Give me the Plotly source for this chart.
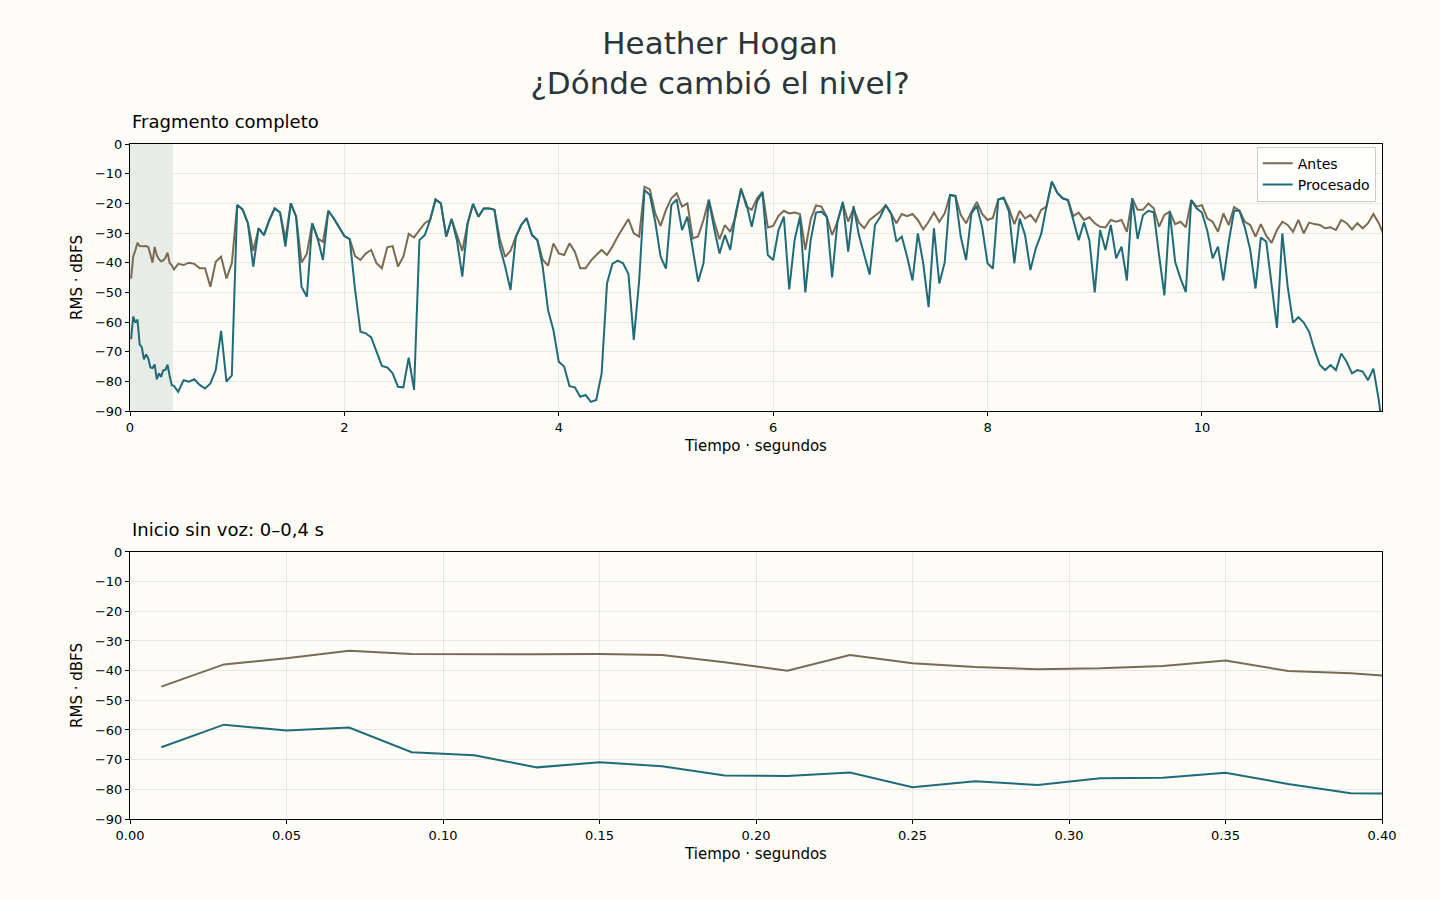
import numpy as np
import plotly.graph_objects as go
from plotly.subplots import make_subplots

# --- datos: inicio sin voz (0-0,4 s), paso 0,02 s ---
t_inicio = [0.01, 0.03, 0.05, 0.07, 0.09, 0.11, 0.13, 0.15, 0.17, 0.19,
            0.21, 0.23, 0.25, 0.27, 0.29, 0.31, 0.33, 0.35, 0.37, 0.39, 0.41]
antes_inicio = [-45.4, -37.9, -35.8, -33.3, -34.4, -34.5, -34.5, -34.4, -34.7, -37.2,
                -40.0, -34.7, -37.5, -38.8, -39.5, -39.2, -38.4, -36.6, -40.1, -40.9, -42.3]
proc_inicio = [-65.8, -58.2, -60.2, -59.2, -67.5, -68.5, -72.6, -70.9, -72.2, -75.3,
               -75.5, -74.3, -79.3, -77.3, -78.5, -76.3, -76.1, -74.4, -78.2, -81.3, -81.5]

# --- resto del fragmento, leído cada 0,05 s desde 0,45 s ---
t_resto = np.round(np.arange(0.45, 11.71, 0.05), 2)
antes_resto = [
    -40.4, -40.8, -40.0, -40.4, -41.9, -41.9, -48.1, -39.7, -38.0, -45.3,
    -40.2, -20.6, -22.0, -26.7, -36.0, -28.4, -30.7, -25.6, -21.7, -23.1,
    -32.0, -20.0, -24.5, -40.0, -37.0, -26.7, -31.8, -33.0, -22.5, -25.0,
    -28.0, -31.0, -32.1, -37.8, -39.1, -36.9, -35.7, -40.2, -41.9, -34.8,
    -34.4, -41.3, -38.0, -30.3, -31.5, -29.2, -26.7, -25.6, -18.7, -20.0,
    -31.2, -25.3, -31.0, -36.0, -26.7, -20.2, -24.5, -21.7, -21.7, -22.2,
    -32.0, -38.0, -36.0, -31.2, -27.3, -25.0, -30.7, -32.4, -39.0, -41.0,
    -33.5, -36.9, -37.4, -33.5, -36.3, -41.9, -41.9, -39.3, -37.4, -35.7,
    -37.4, -34.6, -31.2, -28.4, -25.3, -30.1, -31.2, -14.4, -15.3, -23.4,
    -27.6, -22.2, -18.3, -16.6, -21.1, -20.0, -31.8, -31.2, -25.6, -18.7,
    -26.2, -32.1, -27.3, -29.6, -24.5, -14.9, -21.1, -22.2, -18.3, -16.1,
    -28.1, -27.6, -24.2, -22.5, -23.4, -23.1, -23.6, -35.7, -25.4, -20.7,
    -21.1, -24.5, -30.7, -26.2, -20.0, -26.2, -21.7, -26.5, -28.4, -25.6,
    -24.3, -22.8, -20.6, -23.4, -26.7, -23.6, -24.3, -23.6, -25.6, -28.8,
    -26.2, -23.1, -26.2, -23.4, -17.2, -17.5, -23.9, -26.7, -22.8, -19.5,
    -23.6, -25.6, -24.9, -18.7, -18.1, -21.7, -27.0, -22.5, -25.1, -23.9,
    -26.2, -22.2, -21.1, -12.7, -16.4, -18.3, -18.9, -24.3, -23.1, -25.6,
    -24.7, -26.7, -27.9, -28.1, -25.6, -26.2, -25.6, -29.6, -18.3, -22.2,
    -22.2, -20.0, -21.7, -27.9, -23.9, -22.8, -27.0, -26.2, -28.1, -18.9,
    -21.1, -20.6, -25.1, -26.2, -29.6, -23.4, -27.3, -21.3, -22.5, -26.2,
    -27.3, -31.2, -27.0, -30.9, -33.3, -29.0, -26.2, -27.3, -29.6, -25.6,
    -30.1, -26.5, -27.0, -27.3, -28.4, -28.1, -29.0, -25.6, -26.7, -28.8,
    -26.7, -28.4, -26.7, -23.6, -26.7, -31.0,
]
proc_resto = [
    -83.5, -79.6, -80.1, -79.3, -81.2, -82.4, -80.7, -76.2, -63.0, -80.1,
    -78.0, -20.6, -22.0, -26.7, -41.3, -28.4, -30.7, -25.6, -21.7, -23.1,
    -34.6, -20.0, -24.5, -48.1, -51.5, -26.7, -31.8, -39.1, -22.5, -25.0,
    -28.0, -31.0, -32.1, -49.2, -63.3, -63.8, -65.2, -69.7, -74.8, -75.3,
    -77.3, -81.8, -82.0, -72.0, -82.9, -32.4, -30.7, -25.6, -18.7, -20.0,
    -31.2, -25.3, -32.4, -44.7, -26.7, -20.2, -24.5, -21.7, -21.7, -22.2,
    -34.6, -41.3, -49.2, -31.2, -27.3, -25.0, -30.7, -32.4, -41.3, -56.0,
    -62.7, -73.4, -75.0, -81.6, -82.0, -85.2, -84.6, -86.9, -86.3, -77.3,
    -47.0, -40.4, -39.3, -40.2, -43.8, -66.0, -46.0, -15.5, -17.2, -26.2,
    -38.0, -42.0, -20.6, -18.7, -29.0, -24.5, -35.7, -46.4, -40.2, -18.9,
    -28.5, -36.9, -30.7, -35.7, -23.4, -15.5, -20.0, -27.9, -19.4, -16.3,
    -37.4, -39.1, -29.0, -24.5, -49.0, -32.4, -24.5, -50.0, -32.4, -23.1,
    -22.8, -24.5, -45.0, -26.2, -19.5, -36.3, -20.9, -30.7, -37.4, -44.0,
    -27.3, -24.5, -20.6, -23.4, -32.9, -31.2, -38.0, -46.0, -30.1, -40.2,
    -55.0, -28.4, -47.0, -40.0, -17.2, -17.5, -31.2, -39.1, -23.4, -20.8,
    -28.1, -40.2, -42.0, -18.7, -18.1, -22.8, -40.2, -25.1, -30.7, -42.5,
    -35.2, -30.4, -21.1, -12.7, -16.4, -18.3, -18.9, -25.6, -32.4, -26.4,
    -32.4, -50.0, -29.0, -35.7, -27.3, -38.5, -34.6, -46.0, -18.3, -32.0,
    -24.0, -22.5, -23.0, -37.4, -51.0, -22.8, -39.7, -45.3, -49.9, -18.9,
    -21.7, -23.1, -29.2, -38.5, -34.6, -46.0, -33.0, -22.5, -22.5, -28.1,
    -35.5, -48.7, -31.5, -32.9, -48.0, -62.0, -30.1, -48.1, -60.2, -58.4,
    -60.2, -63.3, -69.4, -74.5, -76.2, -74.5, -76.2, -70.6, -73.4, -77.3,
    -76.2, -76.7, -79.6, -75.7, -86.3, -100.0,
]

t_full = list(t_inicio) + list(t_resto)
antes_full = antes_inicio + antes_resto
proc_full = proc_inicio + proc_resto

COL_ANTES = '#7a6a54'
COL_PROC = '#1f6b78'
BG = '#fdfcf7'
GRID = '#e8e8e2'

fig = make_subplots(rows=2, cols=1)

fig.add_trace(go.Scatter(x=t_full, y=antes_full, mode='lines', name='Antes',
                         line=dict(color=COL_ANTES, width=2)), row=1, col=1)
fig.add_trace(go.Scatter(x=t_full, y=proc_full, mode='lines', name='Procesado',
                         line=dict(color=COL_PROC, width=2)), row=1, col=1)
fig.add_trace(go.Scatter(x=t_inicio, y=antes_inicio, mode='lines', name='Antes',
                         line=dict(color=COL_ANTES, width=2), showlegend=False), row=2, col=1)
fig.add_trace(go.Scatter(x=t_inicio, y=proc_inicio, mode='lines', name='Procesado',
                         line=dict(color=COL_PROC, width=2), showlegend=False), row=2, col=1)

# zona sin voz
fig.add_vrect(x0=0, x1=0.4, row=1, col=1, fillcolor='#e8ece7', opacity=1,
              line_width=0, layer='below')

axis_style = dict(showline=True, linecolor='black', linewidth=1, mirror=True,
                  ticks='outside', ticklen=4, tickcolor='black',
                  showgrid=True, gridcolor=GRID, gridwidth=1, zeroline=False,
                  tickfont=dict(size=13, color='black'))

fig.update_xaxes(axis_style)
fig.update_yaxes(axis_style)
fig.update_xaxes(range=[0, 11.68], tick0=0, dtick=2, domain=[0, 1],
                 title=dict(text='Tiempo · segundos', font=dict(size=15), standoff=6),
                 row=1, col=1)
fig.update_xaxes(range=[0, 0.40], tick0=0, dtick=0.05, tickformat='.2f', domain=[0, 1],
                 title=dict(text='Tiempo · segundos', font=dict(size=15), standoff=6),
                 row=2, col=1)
fig.update_yaxes(range=[-90, 0], tick0=0, dtick=10,
                 title=dict(text='RMS · dBFS', font=dict(size=15), standoff=8))
fig.update_yaxes(domain=[0.6044, 1.0], row=1, col=1)
fig.update_yaxes(domain=[0.0, 0.3956], row=2, col=1)

fig.add_annotation(text='Fragmento completo', xref='x domain', yref='y domain',
                   x=0, y=1, xanchor='left', yanchor='bottom', yshift=10,
                   showarrow=False, font=dict(size=18, color='black'))
fig.add_annotation(text='Inicio sin voz: 0–0,4 s', xref='x2 domain', yref='y2 domain',
                   x=0, y=1, xanchor='left', yanchor='bottom', yshift=10,
                   showarrow=False, font=dict(size=18, color='black'))

fig.update_layout(
    width=1440, height=900,
    margin=dict(l=130, r=58, t=144, b=81),
    paper_bgcolor=BG, plot_bgcolor=BG,
    font=dict(family='DejaVu Sans', size=13, color='black'),
    title=dict(text='Heather Hogan<br>¿Dónde cambió el nivel?',
               x=0.5, xanchor='center', xref='container', y=0.94, yanchor='top',
               font=dict(size=31, color='#2b363c')),
    legend=dict(x=0.995, y=0.996, xanchor='right', yanchor='top',
                bgcolor='rgba(255,255,255,0.85)', bordercolor='#cccccc', borderwidth=1,
                font=dict(size=14), tracegroupgap=0),
    showlegend=True,
)

fig.write_html("out.html", config={'displayModeBar': False},
               post_script="document.body.style.margin='0px';")
